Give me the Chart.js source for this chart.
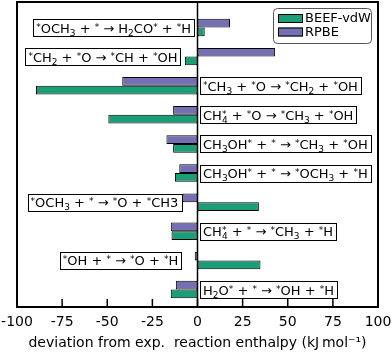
<!DOCTYPE html>
<html>
<head>
<meta charset="utf-8">
<script src="https://cdn.jsdelivr.net/npm/chart.js@4.4.1/dist/chart.umd.min.js"></script>
<style>
    html, body { margin: 0; padding: 0; background: #fff; }
</style>
</head>
<body>
<canvas id="myChart" width="392" height="352"></canvas>
<script>
// ^x = superscript, _x = subscript
var reactions = [
    '^*OCH_3 + ^* \u2192 H_2CO^* + ^*H',
    '^*CH_2 + ^*O \u2192 ^*CH + ^*OH',
    '^*CH_3 + ^*O \u2192 ^*CH_2 + ^*OH',
    'CH_4^* + ^*O \u2192 ^*CH_3 + ^*OH',
    'CH_3OH^* + ^* \u2192 ^*CH_3 + ^*OH',
    'CH_3OH^* + ^* \u2192 ^*OCH_3 + ^*H',
    '^*OCH_3 + ^* \u2192 ^*O + ^*CH3',
    'CH_4^* + ^* \u2192 ^*CH_3 + ^*H',
    '^*OH + ^* \u2192 ^*O + ^*H',
    'H_2O^* + ^* \u2192 ^*OH + ^*H'
];
var beefValues = [4, -7, -89.5, -49.4, -13.5, -12.5, 34, -14.4, 34.9, -14.8];
var rpbeValues = [18, 43, -41.7, -13.5, -17.2, -10.1, -8.3, -14.8, -1.5, -12];
var xTicks = [-100, -75, -50, -25, 0, 25, 50, 75, 100];

// where each reaction label sits (data x of the box edge nearest to zero)
var labelAnchor = [-1.9, -9.4, 1.4, 1.4, 1.4, 1.4, -9, 1.4, -9, 1.4];

var green = '#1b9e77';
var purple = '#7570b3';
var fontFamily = '"DejaVu Sans", sans-serif';

function parseRich(str) {
    var parts = [];
    for (var i = 0; i < str.length; i++) {
        var c = str[i];
        if ((c === '^' || c === '_') && i + 1 < str.length) {
            parts.push({t: str[i + 1], k: c === '^' ? 'sup' : 'sub'});
            i++;
        } else if (parts.length && parts[parts.length - 1].k === 'n') {
            parts[parts.length - 1].t += c;
        } else {
            parts.push({t: c, k: 'n'});
        }
    }
    return parts;
}

function layoutRich(ctx, parts) {
    var x = 0, prev = null;
    parts.forEach(function(p) {
        ctx.font = (p.k === 'n' ? '13px ' : '9px ') + fontFamily;
        p.w = ctx.measureText(p.t).width;
        if (p.k === 'sup' && prev && prev.k === 'sub') {
            p.x = prev.x;
            x = prev.x + Math.max(prev.w, p.w);
        } else {
            p.x = x;
            x += p.w;
        }
        prev = p;
    });
    return x;
}

function drawRich(ctx, parts, x0, yMid) {
    ctx.fillStyle = '#000';
    ctx.textBaseline = 'alphabetic';
    ctx.textAlign = 'left';
    var base = yMid + 5;
    parts.forEach(function(p) {
        ctx.font = (p.k === 'n' ? '13px ' : '9px ') + fontFamily;
        var dy = p.k === 'sup' ? -3 : (p.k === 'sub' ? 3 : 0);
        ctx.fillText(p.t, x0 + p.x, base + dy);
    });
}

var framePlugin = {
    id: 'frame',
    afterDatasetsDraw: function(chart) {
        var ctx = chart.ctx, a = chart.chartArea, xs = chart.scales.x;
        ctx.save();
        // zero line
        var x0 = xs.getPixelForValue(0);
        ctx.strokeStyle = '#000';
        ctx.lineWidth = 1.5;
        ctx.beginPath();
        ctx.moveTo(x0, a.top);
        ctx.lineTo(x0, a.bottom);
        ctx.stroke();

        // reaction labels
        var ys = chart.scales.y;
        reactions.forEach(function(r, i) {
            var parts = parseRich(r);
            var w = layoutRich(ctx, parts);
            var pad = 3;
            var bw = w + pad * 2, bh = 17;
            var ax = xs.getPixelForValue(labelAnchor[i]);
            var left = labelAnchor[i] < 0 ? ax - bw : ax;
            var yc = ys.getPixelForValue(i);
            ctx.fillStyle = '#fff';
            ctx.fillRect(left, yc - bh / 2, bw, bh);
            ctx.lineWidth = 1;
            ctx.strokeStyle = '#000';
            ctx.strokeRect(Math.round(left) + 0.5, Math.round(yc - bh / 2) + 0.5, Math.round(bw), bh);
            drawRich(ctx, parts, left + pad, yc);
        });
        ctx.restore();
    },
    afterDraw: function(chart) {
        var ctx = chart.ctx, a = chart.chartArea, xs = chart.scales.x;
        ctx.save();
        ctx.strokeStyle = '#000';
        // inward ticks
        ctx.lineWidth = 1.5;
        xTicks.forEach(function(t) {
            if (t === -100 || t === 100) return;
            var px = xs.getPixelForValue(t);
            ctx.beginPath();
            ctx.moveTo(px, a.bottom);
            ctx.lineTo(px, a.bottom - 8);
            ctx.stroke();
        });
        // frame
        ctx.lineWidth = 2;
        ctx.strokeRect(a.left, a.top, a.right - a.left, a.bottom - a.top);

        // legend (BEEF-vdW first)
        var lx = a.right - 105, ly = a.top + 6, lw = 98, lh = 35;
        ctx.lineWidth = 1;
        ctx.strokeStyle = '#555';
        ctx.fillStyle = 'rgba(255,255,255,0.9)';
        ctx.beginPath();
        ctx.roundRect(lx + 0.5, ly + 0.5, lw, lh, 4);
        ctx.fill();
        ctx.stroke();
        var items = [chart.data.datasets[1], chart.data.datasets[0]];
        items.forEach(function(ds, i) {
            var y = ly + 6 + i * 13.5;
            ctx.fillStyle = ds.backgroundColor;
            ctx.fillRect(lx + 5, y, 25, 9);
            ctx.strokeStyle = '#000';
            ctx.strokeRect(lx + 5.5, y + 0.5, 24, 8);
            ctx.fillStyle = '#000';
            ctx.font = '13px ' + fontFamily;
            ctx.textBaseline = 'middle';
            ctx.fillText(ds.label, lx + 32, y + 5);
        });
        ctx.restore();
    }
};

function toPoints(values) {
    return values.map(function(v, i) { return {x: v, y: i}; });
}

var myChart = new Chart(document.getElementById('myChart'), {
    type: 'bar',
    data: {
        datasets: [
            {
                label: 'RPBE',
                data: toPoints(rpbeValues),
                backgroundColor: purple,
                borderColor: '#000',
                borderWidth: 1,
                borderSkipped: false
            },
            {
                label: 'BEEF-vdW',
                data: toPoints(beefValues),
                backgroundColor: green,
                borderColor: '#000',
                borderWidth: 1,
                borderSkipped: false
            }
        ]
    },
    options: {
        responsive: false,
        animation: false,
        indexAxis: 'y',
        layout: { padding: { left: 17, right: 14, top: 2, bottom: 0 } },
        categoryPercentage: 0.6,
        barPercentage: 1.0,
        plugins: {
            legend: { display: false },
            tooltip: { enabled: false }
        },
        scales: {
            y: {
                type: 'linear',
                reverse: true,
                offset: false,
                min: -0.876,
                max: 9.6,
                display: false,
                afterBuildTicks: function(scale) {
                    scale.ticks = reactions.map(function(r, i) { return {value: i}; });
                }
            },
            x: {
                type: 'linear',
                min: -100,
                max: 100,
                afterBuildTicks: function(scale) {
                    scale.ticks = xTicks.map(function(v) { return {value: v}; });
                },
                afterFit: function(scale) {
                    scale.height = 45;
                    scale.paddingLeft = 0;
                    scale.paddingRight = 0;
                },
                grid: { display: false, drawTicks: false },
                border: { display: false },
                ticks: {
                    color: '#000',
                    padding: 7,
                    maxRotation: 0,
                    autoSkip: false,
                    font: { family: fontFamily, size: 14 }
                },
                title: {
                    display: true,
                    text: 'deviation from exp.  reaction enthalpy (kJ\u2009mol\u207B\u00B9)',
                    color: '#000',
                    padding: { top: 1, bottom: 0 },
                    font: { family: fontFamily, size: 14 }
                }
            }
        }
    },
    plugins: [framePlugin]
});
</script>
</body>
</html>
